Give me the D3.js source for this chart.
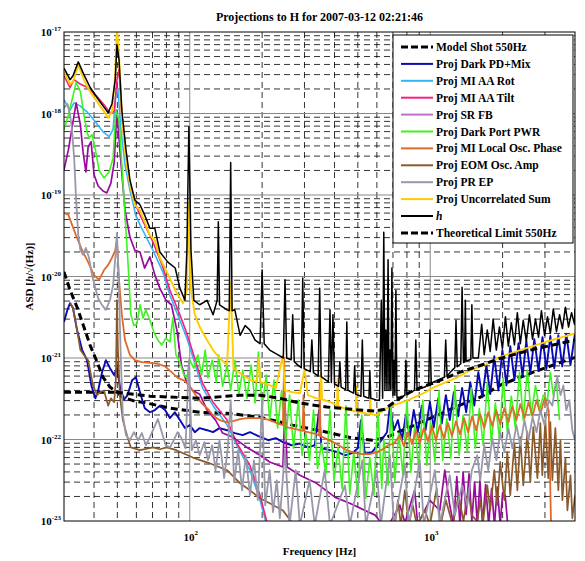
<!DOCTYPE html>
<html><head><meta charset="utf-8">
<script src="https://cdn.jsdelivr.net/npm/d3@7"></script>
<style>
body{margin:0;background:#fff}
svg{display:block}
text{font-family:"Liberation Serif","Times New Roman",serif;fill:#000}
</style>
</head><body>
<svg id="chart" width="585" height="561"></svg>
<script>
// ---------- chart text ----------
const titleText = "Projections to H for 2007-03-12 02:21:46";
const xLabelText = "Frequency [Hz]";
const freqDomain = [30, 4000];
const asdDomain = [1e-23, 1e-17];
const yTickExponents = [-23, -22, -21, -20, -19, -18, -17];
const xTickExponents = [2, 3];

// ---------- series data: [frequency Hz, ASD] ----------
const modelShotData = [[30,3.8e-22],[49.8,3.8e-22],[52.7,3.3e-22],[59.1,2.95e-22],[66.3,2.8e-22],[82.7,2.42e-22],[110,2.16e-22],[143,2.1e-22],[196,1.88e-22],[268,1.5e-22],[372,1.23e-22],[476,1.04e-22],[578,9.8e-23],[661,1.07e-22],[823,1.42e-22],[1024,1.88e-22],[1330,2.64e-22],[1614,3.3e-22],[1955,4.65e-22],[2683,6.7e-22],[4000,1.02e-21]];

const darkPDData = [[30,2.76e-21],[31,3.9e-21],[31.8,4.7e-21],[32.7,4.1e-21],[34,2.2e-21],[35.7,1.25e-21],[37.4,9.4e-22],[39,4.6e-22],[40.5,3.2e-22],[41.6,4.0e-22],[43.2,6.7e-22],[44.8,9.4e-22],[46.6,7.5e-22],[48.5,6.2e-22],[49.8,7.5e-22],[51.2,4.6e-22],[53.2,3.05e-22],[55.1,3.5e-22],[57.6,5.35e-22],[59.7,5.8e-22],[62.1,3.8e-22],[65,2.42e-22],[68.3,2.16e-22],[71.6,2.3e-22],[75.1,2.6e-22],[79,2.3e-22],[82.7,1.83e-22],[86.7,2.16e-22],[91,1.73e-22],[95.5,1.38e-22],[100,1.5e-22],[105,1.23e-22],[110,1.38e-22],[118,1.3e-22],[125,1.23e-22],[133,1.38e-22],[143,1.3e-22],[154,1.2e-22],[166,1.13e-22],[178,1.23e-22],[193,1.1e-22],[212,9.8e-23],[228,1.04e-22],[244,9.3e-23],[265,8.5e-23],[287,8.9e-23],[310,8.0e-23],[331,8.5e-23],[345,2.3e-22],[353,7.8e-23],[383,7.4e-23],[414,7.0e-23],[442,6.4e-23],[473,6.8e-23],[500,7.8e-23],[515,1.73e-22],[535,6.6e-23],[572,7.0e-23],[606,8.5e-23],[635,1.04e-22],[661,1.23e-22],[680,2.6e-22],[706,1.3e-22],[734,1.73e-22],[763,9.8e-23],[792,1.99e-22],[823,1.1e-22],[854,2.3e-22],[888,1.23e-22],[922,2.6e-22],[956,1.3e-22],[997,2.9e-22],[1034,1.4e-22],[1080,3.2e-22],[1116,1.57e-22],[1162,3.5e-22],[1206,1.73e-22],[1254,3.8e-22],[1306,1.92e-22],[1357,4.3e-22],[1411,2.16e-22],[1467,5.05e-22],[1525,2.6e-22],[1585,6.7e-22],[1648,3.3e-22],[1713,8.2e-22],[1776,3.6e-22],[1847,1.05e-21],[1920,4.0e-22],[1996,1.25e-21],[2075,4.6e-22],[2152,1.4e-21],[2240,5.35e-22],[2330,1.52e-21],[2420,6.0e-22],[2510,1.61e-21],[2608,6.5e-22],[2710,1.7e-21],[2820,6.9e-22],[2930,1.8e-21],[3040,7.3e-22],[3159,1.86e-21],[3280,7.5e-22],[3410,1.9e-21],[3540,7.9e-22],[3680,1.97e-21],[3830,8.2e-22],[4000,2.0e-21]];

const aaRotData = [[30,1.47e-18],[31.8,1.1e-18],[33,1.35e-18],[35,1.24e-18],[37.4,1.05e-18],[40.5,7.9e-19],[43.6,5.95e-19],[46.2,5.2e-19],[48,6.4e-19],[49.3,1.7e-18],[50.3,1.95e-18],[51.7,6.4e-19],[53.8,2.35e-19],[56.4,1.15e-19],[59.6,5.7e-20],[62.1,4.3e-20],[70.3,2.1e-20],[77.3,1.14e-20],[82.7,5.9e-21],[91,2.9e-21],[97.3,1.75e-21],[103,1.03e-21],[113,4.3e-22],[125,2.6e-22],[143,1.5e-22],[157,8.5e-23],[178,4.2e-23],[196,1.8e-23],[208,9.4e-24]];

const aaTiltData = [[30,2.9e-18],[31.8,2.07e-18],[33,2.6e-18],[35,2.3e-18],[37.8,2.07e-18],[40.9,1.65e-18],[44,1.28e-18],[46.6,1.02e-18],[48.5,1.05e-18],[49.8,2.6e-18],[50.8,3.45e-18],[52.2,8.9e-19],[54.3,3.1e-19],[56.4,1.4e-19],[59.6,7.6e-20],[62.1,5.7e-20],[70.3,2.65e-20],[77.3,1.31e-20],[82.7,6.8e-21],[91,3.4e-21],[97.3,2.0e-21],[103,1.18e-21],[113,4.9e-22],[125,2.87e-22],[143,1.73e-22],[157,9.0e-23],[178,4.8e-23],[196,2.07e-23],[210,9.4e-24]];

const srfbData = [[30,2.03e-19],[31.3,3.6e-19],[32.4,6.7e-19],[33.7,1.35e-18],[35.1,7.25e-19],[36,3.4e-19],[37,1.92e-19],[37.8,3.9e-19],[38.9,4.5e-19],[40,1.77e-19],[41.6,1.29e-19],[43.6,1.12e-19],[45.2,1.06e-19],[47,1.4e-19],[48.5,2.5e-19],[49.8,1.1e-18],[51.2,3.6e-19],[53.8,6.55e-20],[56.4,3.05e-20],[59.1,2.1e-20],[62.1,2.0e-20],[64.9,1.27e-20],[68.3,1.74e-20],[71.6,1.04e-20],[75.1,7.2e-21],[79.5,5.15e-21],[83.9,4.5e-21],[88.4,2.2e-21],[92.4,8.2e-22],[97.3,4.9e-22],[103,4.0e-22],[110,3.6e-22],[118,2.3e-22],[128,1.73e-22],[137,1.2e-22],[151,1.07e-22],[173,8.0e-23],[196,6.4e-23],[215,5.3e-23],[244,4.6e-23],[249,2.8e-22],[254,4.6e-23],[287,3.65e-23],[337,2.9e-23],[403,1.95e-23],[463,1.65e-23],[535,1.35e-23],[590,1.18e-23],[635,9e-24],[680,9.5e-24],[748,1.56e-23],[785,9.5e-24],[862,2.4e-23],[887,9e-24],[995,1.8e-23],[1096,1.35e-23],[1150,4.2e-23],[1206,1.56e-23],[1250,9e-24],[1290,3.5e-23],[1330,9e-24],[1370,4e-23],[1410,1.2e-23],[1450,3.8e-23],[1490,1e-23],[1530,3e-23],[1570,9e-24],[1610,3.2e-23],[1650,9e-24],[1700,2.8e-23],[1750,9e-24],[1800,2.5e-23],[1850,9e-24],[1900,2.6e-23],[1955,9e-24],[2000,2.2e-23],[2050,2.07e-23],[2100,9e-24],[2150,9e-24],[4000,5e-24]];

const darkPortData = [[30,6.3e-19],[31.3,9.6e-19],[32.4,1.47e-18],[33.7,2.4e-18],[35.1,1.85e-18],[36.3,9.6e-19],[37.4,5.95e-19],[38.1,5.0e-19],[39.2,5.5e-19],[40.5,3.6e-19],[42,2.0e-19],[44,1.62e-19],[46.2,1.92e-19],[48,2.85e-19],[49.3,1.1e-18],[50.8,8.4e-19],[52.2,2.34e-19],[53.8,5.7e-20],[55.6,1.2e-20],[56.9,3.4e-21],[58.6,2.5e-21],[60.3,2.6e-21],[62.1,4.5e-21],[63.9,3.1e-21],[65.7,3.9e-21],[68.3,2.9e-21],[70.9,2.08e-21],[73.7,1.66e-21],[76.5,1.44e-21],[79.5,1.75e-21],[82.7,1.57e-21],[85.1,3.1e-21],[87.6,1.09e-21],[91,8.9e-22],[94.6,6.2e-22],[97.3,5.7e-22],[100,9.4e-22],[104,7.5e-22],[108,1.09e-21],[112,6.2e-22],[116,1.25e-21],[119,5.7e-22],[124,9.4e-22],[129,5.05e-22],[132,1.09e-21],[137,4.5e-22],[143,8.2e-22],[148,4.0e-22],[154,9.4e-22],[160,3.6e-22],[166,7.1e-22],[173,3.2e-22],[180,8.2e-22],[187,2.8e-22],[193,1.18e-21],[200,2.42e-22],[208,6.2e-22],[215,1.73e-22],[224,5.35e-22],[232,1.38e-22],[241,4.0e-22],[251,9.8e-23],[260,3.5e-22],[270,7.8e-23],[283,3.05e-22],[293,6.4e-23],[304,1.2e-22],[315,5.55e-23],[327,2.3e-22],[340,4.4e-23],[353,9e-23],[368,3.75e-23],[383,2.3e-22],[398,3.15e-23],[414,8e-23],[430,2.5e-23],[446,2.6e-22],[463,2.13e-23],[481,7e-23],[500,1.95e-23],[519,1.99e-22],[540,1.9e-23],[561,6e-23],[583,2.07e-23],[606,2.3e-22],[629,2.5e-23],[641,1.0e-22],[668,2.75e-23],[686,2.6e-22],[713,3.15e-23],[740,1.2e-22],[770,3.65e-23],[800,3.05e-22],[831,3.95e-23],[863,1.5e-22],[897,4.2e-23],[931,3.05e-22],[968,4.8e-23],[1006,1.6e-22],[1046,5.3e-23],[1088,4.0e-22],[1127,5.55e-23],[1172,1.8e-22],[1218,5.9e-23],[1266,4.6e-22],[1318,6.4e-23],[1370,2.0e-22],[1426,7.0e-23],[1482,4.3e-22],[1540,7.8e-23],[1600,2.4e-22],[1660,8.5e-23],[1727,5.0e-22],[1795,9.2e-23],[1866,2.8e-22],[1940,1.04e-22],[2011,5.7e-22],[2092,1.23e-22],[2174,3.4e-22],[2260,1.38e-22],[2350,6.7e-22],[2437,1.73e-22],[2535,7.1e-22],[2630,1.99e-22],[2740,4.6e-22],[2850,2.3e-22],[2954,3.5e-22],[3070,3.05e-22],[3159,6.7e-22],[3250,3.5e-22],[3350,5.0e-22],[3450,1.73e-22]];

const loPhaseData = [[30,6.0e-20],[31.3,5.7e-20],[32.4,4.3e-20],[34,2.97e-20],[35.7,2.1e-20],[37.8,1.5e-20],[40,1.04e-20],[42,9.1e-21],[44,1.2e-20],[45.8,1.39e-20],[47.5,1.7e-20],[49,2.1e-20],[49.8,2.8e-20],[50.8,9.1e-21],[52.2,3.4e-21],[53.8,1.66e-21],[56.4,1.09e-21],[59.1,9.4e-22],[63.2,8.9e-22],[68.3,8.7e-22],[73.7,8.5e-22],[79,7.9e-22],[84,6.7e-22],[89.1,5.7e-22],[95.5,5.25e-22],[100,4.5e-22],[106,3.5e-22],[112,2.8e-22],[120,2.3e-22],[126,1.93e-22],[133,1.73e-22],[142,1.63e-22],[151,1.68e-22],[162,1.78e-22],[173,1.83e-22],[187,1.83e-22],[200,1.83e-22],[215,1.73e-22],[232,1.58e-22],[244,1.5e-22],[247,1.0e-21],[250,1.42e-22],[265,1.38e-22],[287,1.3e-22],[295,1.28e-22],[297,3.5e-22],[300,1.26e-22],[310,1.23e-22],[337,1.16e-22],[345,1.12e-22],[347,5e-22],[350,1.1e-22],[364,1.04e-22],[394,9.3e-23],[421,8.3e-23],[450,7.4e-23],[486,6.8e-23],[522,6.6e-23],[561,6.6e-23],[600,7.0e-23],[635,7.6e-23],[668,8.5e-23],[706,8.9e-23],[748,1.13e-22],[777,8.3e-23],[808,1.23e-22],[840,8.8e-23],[873,1.3e-22],[905,9.0e-23],[941,1.38e-22],[978,9.5e-23],[1016,1.46e-22],[1056,9.8e-23],[1096,1.5e-22],[1140,1.04e-22],[1185,1.59e-22],[1232,1.1e-22],[1280,1.68e-22],[1330,1.16e-22],[1383,1.83e-22],[1437,1.23e-22],[1494,1.93e-22],[1552,1.3e-22],[1614,2.05e-22],[1677,1.38e-22],[1743,2.16e-22],[1812,1.46e-22],[1883,2.29e-22],[1955,1.54e-22],[2033,2.42e-22],[2113,1.63e-22],[2196,2.56e-22],[2282,1.73e-22],[2369,2.71e-22],[2466,1.83e-22],[2563,2.87e-22],[2664,1.93e-22],[2769,3.04e-22],[2871,2.05e-22],[2990,3.22e-22],[3110,2.29e-22],[3180,9e-24],[4000,9e-24]];

const eomData = [[31.8,4.7e-21],[32.7,4.1e-21],[34,2.2e-21],[35.1,1.25e-21],[36.3,1.09e-21],[37.8,9.4e-22],[39.6,4.6e-22],[41.2,3.5e-22],[42.3,3.8e-22],[44,4.0e-22],[45.8,2.6e-22],[47,3.2e-22],[48.5,2.87e-22],[49.3,5.35e-22],[49.8,5.15e-21],[50.3,1.25e-21],[51.2,3.5e-22],[52.7,1.73e-22],[54.8,1.13e-22],[56.9,8.0e-23],[62.1,7.4e-23],[70.3,8.0e-23],[75.1,7.6e-23],[80.3,8.0e-23],[88,7.4e-23],[103,6.0e-23],[121,5.1e-23],[143,4.2e-23],[162,2.9e-23],[178,2.38e-23],[196,1.9e-23],[215,1.65e-23],[244,1.35e-23],[266,9.6e-24],[700,8e-24],[713,8.9e-24],[734,1.8e-23],[755,8.9e-24],[784,2.38e-23],[815,8.9e-24],[846,1.56e-23],[880,8.9e-24],[950,1.35e-23],[997,8.9e-24],[1064,2.5e-23],[1105,8.9e-24],[1162,1.8e-23],[1240,8.9e-24],[1310,2.07e-23],[1375,1.0e-23],[1440,2.38e-23],[1490,1.17e-23],[1569,9.9e-24],[1614,1.8e-23],[1660,9.9e-24],[1727,2.74e-23],[1776,1.35e-23],[1847,4.2e-23],[1900,1.56e-23],[1955,5.3e-23],[2033,1.8e-23],[2092,7.0e-23],[2152,2.07e-23],[2240,9.0e-23],[2303,2.38e-23],[2369,1.07e-22],[2437,2.74e-23],[2535,1.23e-22],[2608,2.99e-23],[2683,1.42e-22],[2791,3.35e-23],[2871,1.59e-22],[2925,3.64e-23],[3011,1.73e-22],[3097,3.35e-23],[3159,1.63e-22],[3220,3.16e-23],[3314,1.38e-22],[3410,2.38e-23],[3480,9.8e-23],[3545,1.8e-23],[3650,5.9e-23],[3720,1.35e-23],[3830,3.64e-23],[3900,1.08e-23],[4000,2.07e-23]];

const prepData = [[30,1.17e-18],[31,1.31e-18],[31.8,9.6e-19],[32.4,6.3e-19],[33.1,2.7e-19],[33.7,8.7e-20],[34.4,3.2e-20],[35.1,2.1e-20],[36,1.84e-20],[37,2.24e-20],[38.1,1.7e-20],[39.2,1.04e-20],[40.5,7.2e-21],[41.6,5.4e-21],[43.2,4.45e-21],[44.8,3.9e-21],[46.6,5.15e-21],[48,7.8e-21],[49.3,2.1e-20],[49.8,3.4e-20],[50.8,6.8e-21],[51.7,9.4e-22],[52.7,1.99e-22],[54.3,1.13e-22],[56.4,9.8e-23],[58.6,1.23e-22],[61,9.8e-23],[63.2,1.2e-22],[65.7,8.5e-23],[68.3,1.07e-22],[70.9,1.38e-22],[73.7,1.78e-22],[76.5,1.23e-22],[79.5,8.5e-23],[82.7,8.0e-23],[85.8,9.8e-23],[89,1.23e-22],[92.4,1.04e-22],[96,7.8e-23],[99.2,9.4e-22],[102,7.4e-23],[106,9.8e-23],[110,6.4e-23],[115,9.3e-23],[119,5.55e-23],[124,8.5e-23],[128,4.2e-23],[133,9.8e-23],[139,3.35e-23],[144,7.8e-23],[148,3.04e-22],[153,2.97e-23],[159,7.4e-23],[165,2.38e-23],[171,6.4e-23],[178,2.07e-23],[185,5.55e-23],[192,1.8e-23],[200,3.04e-22],[206,1.56e-23],[215,4.2e-23],[222,1.28e-23],[230,3.16e-23],[237,1.08e-23],[249,7.4e-23],[260,8.9e-24],[276,4.2e-23],[287,8.9e-24],[315,3.16e-23],[331,8.9e-24],[364,4.2e-23],[383,8.9e-24],[442,2.74e-23],[463,8.9e-24],[522,5.55e-23],[540,8.9e-24],[600,4.2e-23],[623,8.9e-24],[680,6.4e-23],[706,8.9e-24],[784,4.8e-23],[815,8.9e-24],[905,5.55e-23],[941,8.9e-24],[1046,4.2e-23],[1096,8.9e-24],[1206,3.64e-23],[1266,1.17e-23],[1357,2.74e-23],[1426,1.56e-23],[1490,4.2e-23],[1569,6.4e-23],[1614,3.16e-23],[1677,8.5e-23],[1743,4.2e-23],[1812,1.04e-22],[1883,5.55e-23],[1955,1.23e-22],[2033,7.0e-23],[2113,1.38e-22],[2196,7.8e-23],[2282,1.5e-22],[2369,8.5e-23],[2466,1.73e-22],[2563,9.8e-23],[2664,1.88e-22],[2769,1.23e-22],[2871,2.29e-22],[2990,1.5e-22],[3110,3.04e-22],[3220,2.6e-22],[3314,4.6e-22],[3379,5.8e-22],[3480,3.5e-22],[3580,4.6e-22],[3680,2.29e-22],[3790,3.04e-22],[3900,1.3e-22],[4000,9.8e-23]];

const uncorrData = [[30,3.2e-18],[31.8,2.3e-18],[32.7,2.45e-18],[34.4,3.95e-18],[36.3,2.6e-18],[38.5,1.85e-18],[41.2,1.4e-18],[43.6,1.1e-18],[45.8,8.9e-19],[47.5,1.05e-18],[49,3.0e-18],[49.8,1.1e-17],[50.8,5.3e-18],[52.2,9.6e-19],[54.3,2.7e-19],[56.4,1.33e-19],[59.1,7.6e-20],[62.1,6.5e-20],[64.9,4.7e-20],[68.3,3.2e-20],[71.6,2.8e-20],[75.1,1.7e-20],[80.3,1.14e-20],[87,6.8e-21],[93.7,4.7e-21],[97.3,6.8e-21],[99.2,8.0e-20],[101.2,6.8e-21],[105,3.4e-21],[110,2.4e-21],[118,1.66e-21],[125,1.25e-21],[133,1.0e-21],[143,8.2e-22],[148,8.3e-21],[152,7.5e-22],[162,6.5e-22],[178,5.4e-22],[190,5.1e-22],[194,1.0e-21],[196,5.1e-22],[212,4.7e-22],[228,4.3e-22],[244,1.08e-21],[249,4.0e-22],[268,3.8e-22],[287,3.7e-22],[300,7.1e-22],[310,3.5e-22],[337,3.2e-22],[350,3.15e-22],[352,6.5e-22],[355,3.1e-22],[364,3.05e-22],[394,2.8e-22],[410,2.6e-22],[412,5.5e-22],[415,2.55e-22],[463,2.3e-22],[490,2.2e-22],[493,4.5e-22],[496,2.2e-22],[535,2.1e-22],[560,2.05e-22],[563,4e-22],[566,2.05e-22],[600,2.0e-22],[635,2.25e-22],[680,2.55e-22],[748,2.8e-22],[823,3.1e-22],[880,3.4e-22],[956,3.8e-22],[1024,4.3e-22],[1150,5.0e-22],[1300,5.8e-22],[1467,7.1e-22],[1700,8.3e-22],[1955,1.03e-21],[2369,1.25e-21],[3011,1.57e-21],[4000,2.0e-21]];

const hData = [[30,3.6e-18],[31.8,2.6e-18],[32.7,2.9e-18],[34.4,4.3e-18],[36.3,3.0e-18],[38.5,2.1e-18],[41.2,1.56e-18],[43.6,1.24e-18],[45.8,1.02e-18],[47.5,1.32e-18],[49,2.6e-18],[49.8,7.0e-18],[50.8,4.6e-18],[52.2,1.1e-18],[54.3,3.6e-19],[56.4,1.53e-19],[59.1,8.7e-20],[62.1,7.6e-20],[64.9,5.7e-20],[68.3,3.9e-20],[71.6,3.9e-20],[75.1,2.0e-20],[81.1,1.5e-20],[87,1.27e-20],[91,7.2e-21],[95.5,5.1e-21],[97.3,2.1e-20],[99.2,6.9e-19],[101.2,2.1e-20],[104,5.1e-21],[110,4.5e-21],[118,5.1e-21],[125,3.4e-21],[130,5.1e-21],[131.5,4.7e-20],[133,4.5e-21],[143,3.9e-21],[146,3.8e-21],[148,2.5e-19],[150,3.8e-21],[154,3.9e-21],[162,1.9e-21],[170,2.5e-21],[178,2.2e-21],[187,1.66e-21],[196,1.5e-21],[200,1.2e-20],[204,1.5e-21],[215,1.25e-21],[232,1.1e-21],[245,1.0e-21],[249,9.1e-21],[253,1.0e-21],[264,9.5e-22],[268,3.4e-21],[272,9.0e-22],[284,8e-22],[291,7.6e-22],[295,9.6e-21],[299,7.4e-22],[317,6.8e-22],[322,1.66e-21],[327,6.6e-22],[342,6.0e-22],[347,7.2e-21],[352,5.9e-22],[377,5.1e-22],[383,3.9e-21],[388,5.0e-22],[394,3.4e-21],[400,4.8e-22],[416,4.5e-22],[421,9e-22],[426,4.4e-22],[445,4.1e-22],[450,2.76e-21],[455,4.0e-22],[480,3.7e-22],[485,8e-22],[490,3.6e-22],[515,3.4e-22],[522,1.66e-21],[529,3.4e-22],[556,3.2e-22],[561,7e-22],[566,3.2e-22],[600,3.04e-22],[615,3.04e-22],[626,5.1e-21],[634,3.2e-22],[641,3.5e-20],[648,4e-22],[654,2.2e-21],[661,4e-22],[668,1.6e-20],[674,4e-22],[680,1.25e-21],[686,4e-22],[693,1.27e-20],[700,3.5e-22],[706,9.4e-22],[713,3.5e-22],[720,6.8e-21],[727,3.3e-22],[760,3.3e-22],[785,3.5e-22],[792,9.4e-22],[800,3.6e-22],[860,4.0e-22],[871,1.66e-21],[882,4.1e-22],[950,4.4e-22],[985,4.8e-22],[997,2.2e-21],[1010,4.9e-22],[1050,5.2e-22],[1096,5.5e-22],[1145,5.8e-22],[1160,1.66e-21],[1175,6e-22],[1230,7e-22],[1265,7.6e-22],[1280,2.9e-21],[1295,7.8e-22],[1340,8.5e-22],[1357,7.4e-21],[1375,8.8e-22],[1390,8.9e-22],[1400,5.1e-21],[1410,9.2e-22],[1475,9.6e-22],[1490,4.5e-21],[1505,1.0e-21],[1545,1.0e-21],[1585,1.0e-21],[1637,2.6e-21],[1677,1.1e-21],[1727,2.2e-21],[1776,1.2e-21],[1827,3.0e-21],[1883,1.25e-21],[1940,2.4e-21],[1996,1.3e-21],[2055,3.2e-21],[2113,1.4e-21],[2174,2.7e-21],[2240,1.45e-21],[2303,3.6e-21],[2369,1.5e-21],[2437,2.9e-21],[2510,1.6e-21],[2585,3.4e-21],[2664,1.7e-21],[2740,3.0e-21],[2820,1.8e-21],[2900,3.8e-21],[2990,1.9e-21],[3075,3.2e-21],[3159,2.0e-21],[3250,4.0e-21],[3350,2.1e-21],[3450,3.4e-21],[3545,2.3e-21],[3650,4.2e-21],[3760,2.4e-21],[3870,3.6e-21],[3980,2.6e-21],[4000,4.0e-21]];

const theoLimitData = [[30,1.14e-20],[31.8,6.8e-21],[34,4.2e-21],[36.3,2.4e-21],[38.5,1.44e-21],[41.2,8.9e-22],[43.6,5.8e-22],[46.6,4.4e-22],[49.8,3.8e-22],[68.3,3.4e-22],[110,3.2e-22],[162,3.5e-22],[196,3.5e-22],[237,3.2e-22],[287,2.8e-22],[372,2.5e-22],[509,2.3e-22],[590,2.23e-22],[648,2.35e-22],[727,3.05e-22],[823,3.8e-22],[905,4.3e-22],[1024,4.9e-22],[1150,5.6e-22],[1330,6.7e-22],[1614,8.1e-22],[1955,9.9e-22],[2608,1.25e-21],[4000,1.66e-21]];

const seriesNames = ["Model Shot 550Hz","Proj Dark PD+Mix","Proj MI AA Rot","Proj MI AA Tilt","Proj SR FB","Proj Dark Port PWR","Proj MI Local Osc. Phase","Proj EOM Osc. Amp","Proj PR EP","Proj Uncorrelated Sum","h","Theoretical Limit 550Hz"];

// ---------- drawing ----------
const seriesStyle = [
  {data:modelShotData, color:"#000", width:3, dash:"7,4"},
  {data:darkPDData, color:"#0a0ab4", width:1.9},
  {data:aaRotData, color:"#33b5f5", width:1.6},
  {data:aaTiltData, color:"#f5207f", width:1.6},
  {data:srfbData, color:"#9a0aa0", width:1.7},
  {data:darkPortData, color:"#3cf51e", width:1.6},
  {data:loPhaseData, color:"#e06a2a", width:1.8},
  {data:eomData, color:"#8b5a2b", width:1.7},
  {data:prepData, color:"#9898aa", width:1.8},
  {data:uncorrData, color:"#ffcc00", width:1.9},
  {data:hData, color:"#000", width:1.5},
  {data:theoLimitData, color:"#000", width:3, dash:"7,4"}
];
const legendColors = ["#000","#0a0ab4","#33b5f5","#f5207f","#c070c8","#3cf51e","#e06a2a","#8b5a2b","#9898aa","#ffcc00","#000","#000"];

const W = 585, H = 561;
const L = 64, R = 575, T = 32, B = 521;
const svg = d3.select("#chart");
svg.append("rect").attr("width", W).attr("height", H).attr("fill", "#fff");

const x = d3.scaleLog().domain(freqDomain).range([L, R]);
const y = d3.scaleLog().domain(asdDomain).range([B, T]);

// grid
const grid = svg.append("g");
const xMajor = [], xMinor = [];
for (let e = 1; e <= 3; e++) for (let m = 1; m <= 9; m++) {
  const v = m * Math.pow(10, e);
  if (v <= freqDomain[0] || v >= freqDomain[1]) continue;
  (m === 1 ? xMajor : xMinor).push(v);
}
const yMajor = [], yMinor = [];
for (let e = -23; e <= -18; e++) for (let m = 1; m <= 9; m++) {
  const v = m * Math.pow(10, e);
  if (v <= asdDomain[0] * 1.0001 || v >= asdDomain[1] * 0.9999) continue;
  (m === 1 ? yMajor : yMinor).push(v);
}
grid.selectAll(".xmin").data(xMinor).join("line")
  .attr("x1", d => x(d)).attr("x2", d => x(d)).attr("y1", T).attr("y2", B)
  .attr("stroke", "#000").attr("stroke-width", 0.8).attr("stroke-dasharray", "6,4");
grid.selectAll(".ymin").data(yMinor).join("line")
  .attr("y1", d => y(d)).attr("y2", d => y(d)).attr("x1", L).attr("x2", R)
  .attr("stroke", "#000").attr("stroke-width", 0.8).attr("stroke-dasharray", "6,4");
grid.selectAll(".xmaj").data(xMajor).join("line")
  .attr("x1", d => x(d)).attr("x2", d => x(d)).attr("y1", T).attr("y2", B)
  .attr("stroke", "#888").attr("stroke-width", 1);
grid.selectAll(".ymaj").data(yMajor).join("line")
  .attr("y1", d => y(d)).attr("y2", d => y(d)).attr("x1", L).attr("x2", R)
  .attr("stroke", "#888").attr("stroke-width", 1);

// clip
svg.append("defs").append("clipPath").attr("id", "plotclip")
  .append("rect").attr("x", L).attr("y", T).attr("width", R - L).attr("height", B - T);

const line = d3.line().x(d => x(d[0])).y(d => y(d[1]));
const plot = svg.append("g").attr("clip-path", "url(#plotclip)");
seriesStyle.forEach(s => {
  plot.append("path").attr("d", line(s.data)).attr("fill", "none")
    .attr("stroke", s.color).attr("stroke-width", s.width)
    .attr("stroke-linejoin", "round")
    .attr("stroke-dasharray", s.dash || null);
});

// frame
svg.append("rect").attr("x", L).attr("y", T).attr("width", R - L).attr("height", B - T)
  .attr("fill", "none").attr("stroke", "#000").attr("stroke-width", 1);

// y tick labels
yTickExponents.forEach(e => {
  const t = svg.append("text").attr("x", L - 3).attr("y", y(Math.pow(10, e)) + 4)
    .attr("text-anchor", "end").attr("font-size", 11).attr("font-weight", "bold");
  t.append("tspan").text("10");
  t.append("tspan").attr("dy", -5).attr("font-size", 7).text(String(e));
});
// x tick labels
xTickExponents.forEach(e => {
  const t = svg.append("text").attr("x", x(Math.pow(10, e)) + 1).attr("y", 541)
    .attr("text-anchor", "middle").attr("font-size", 11).attr("font-weight", "bold");
  t.append("tspan").text("10");
  t.append("tspan").attr("dy", -6).attr("font-size", 7).text(String(e));
});

// title and axis labels
svg.append("text").attr("x", (L + R) / 2).attr("y", 21).attr("text-anchor", "middle")
  .attr("font-size", 12).attr("font-weight", "bold").text(titleText);
svg.append("text").attr("x", (L + R) / 2).attr("y", 555).attr("text-anchor", "middle")
  .attr("font-size", 11).attr("font-weight", "bold").text(xLabelText);
const yl = svg.append("text").attr("transform", `translate(33,${(T + B) / 2}) rotate(-90)`)
  .attr("text-anchor", "middle").attr("font-size", 11).attr("font-weight", "bold");
yl.append("tspan").text("ASD [");
yl.append("tspan").attr("font-style", "italic").text("h");
yl.append("tspan").text("/\u221A(Hz)]");

// legend
const lg = svg.append("g");
const lgX = 393, lgY = 35, lgW = 180, lgH = 208, rowH = 16.9;
lg.append("rect").attr("x", lgX).attr("y", lgY).attr("width", lgW).attr("height", lgH)
  .attr("fill", "#fff").attr("stroke", "#000").attr("stroke-width", 1);
seriesNames.forEach((name, i) => {
  const yy = lgY + 12 + i * rowH;
  const st = seriesStyle[i];
  lg.append("line").attr("x1", lgX + 8).attr("x2", lgX + 40).attr("y1", yy).attr("y2", yy)
    .attr("stroke", legendColors[i]).attr("stroke-width", st.dash ? 3 : 2)
    .attr("stroke-dasharray", st.dash ? "7,3" : null);
  const tx = lg.append("text").attr("x", lgX + 43).attr("y", yy + 4)
    .attr("font-size", 11.5).attr("font-weight", "bold");
  if (name === "h") tx.attr("font-style", "italic");
  tx.text(name);
});
</script>
</body></html>
